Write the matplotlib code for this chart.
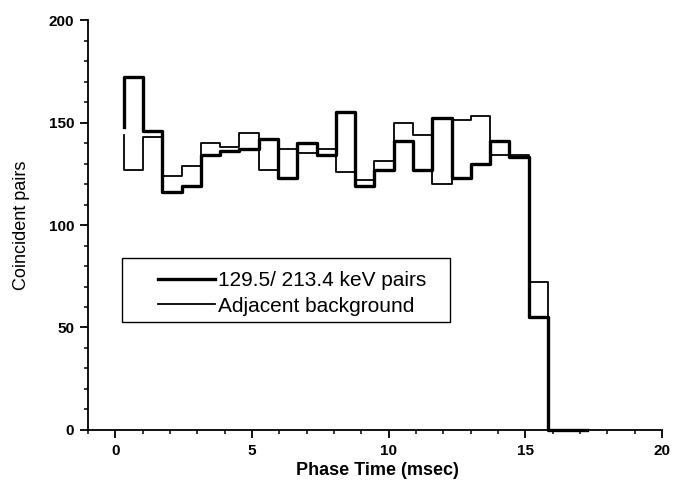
import matplotlib
matplotlib.use("Agg")
import matplotlib.pyplot as plt
from matplotlib.patches import Rectangle
from matplotlib.ticker import MultipleLocator

# bin start times (msec), last entry is the right edge of the last bin
phase_time = [0.30, 1.01, 1.71, 2.42, 3.12, 3.83, 4.53, 5.24, 5.95, 6.65,
              7.36, 8.06, 8.77, 9.47, 10.18, 10.89, 11.59, 12.30, 13.00,
              13.71, 14.41, 15.12, 15.83, 16.53, 17.24]
# coincident pairs per bin
pairs_signal = [172, 146, 116, 119, 134, 136, 137, 142, 123, 140, 134, 155,
                119, 127, 141, 127, 152, 123, 130, 141, 133, 55, 0, 0]
pairs_background = [127, 143, 124, 129, 140, 138, 145, 127, 137, 135, 137, 126,
                    122, 131, 150, 144, 120, 151, 153, 134, 134, 72, 0, 0]
start_signal = 148
start_background = 144

plt.rcParams['font.family'] = ['Liberation Sans', 'DejaVu Sans']

fig = plt.figure(figsize=(6.74, 4.93), dpi=100)
ax = fig.add_axes([0.1306, 0.1278, 0.8516, 0.8316])


def step_xy(edges, vals, start):
    # steps-post: leading vertical from start value at first edge
    x = [edges[0]] + list(edges)
    y = [start] + list(vals) + [vals[-1]]
    return x, y


xs, ys = step_xy(phase_time, pairs_signal, start_signal)
xb, yb = step_xy(phase_time, pairs_background, start_background)
ax.plot(xb, yb, drawstyle='steps-post', color='black', lw=1.3, clip_on=False,
        label='Adjacent background')
ax.plot(xs, ys, drawstyle='steps-post', color='black', lw=2.4, clip_on=False,
        label='129.5/ 213.4 keV pairs')

ax.set_xlim(-1, 20)
ax.set_ylim(0, 200)
ax.spines['top'].set_visible(False)
ax.spines['right'].set_visible(False)
for s in ['left', 'bottom']:
    ax.spines[s].set_linewidth(1.3)

ax.xaxis.set_major_locator(MultipleLocator(5))
ax.xaxis.set_minor_locator(MultipleLocator(1))
ax.yaxis.set_major_locator(MultipleLocator(50))
ax.yaxis.set_minor_locator(MultipleLocator(10))
ax.tick_params(which='major', direction='out', length=6, width=1.3, pad=4,
               labelsize=11)
ax.tick_params(which='minor', direction='out', length=3, width=1.1)
for lab in ax.get_xticklabels() + ax.get_yticklabels():
    lab.set_fontweight('bold')

ax.set_xlabel('Phase Time (msec)', fontsize=13, fontweight='bold')
ax.set_ylabel('Coincident pairs', fontsize=13)
ax.xaxis.set_label_coords(0.505, -0.078)
ax.yaxis.set_label_coords(-0.101, 0.5)

# legend frame drawn separately to get the wide left margin
ax.add_patch(Rectangle((0.0592, 0.2634), 0.5715, 0.1561, transform=ax.transAxes,
                       fill=False, edgecolor='black', lw=1.0))
h, l = ax.get_legend_handles_labels()
leg = ax.legend(h[::-1], l[::-1], loc='upper left', bbox_to_anchor=(0.122, 0.388),
                frameon=False, fontsize=15, handlelength=2.74, handletextpad=0.15,
                borderpad=0, borderaxespad=0, labelspacing=0.32)

fig.savefig('out.png', dpi=100)
